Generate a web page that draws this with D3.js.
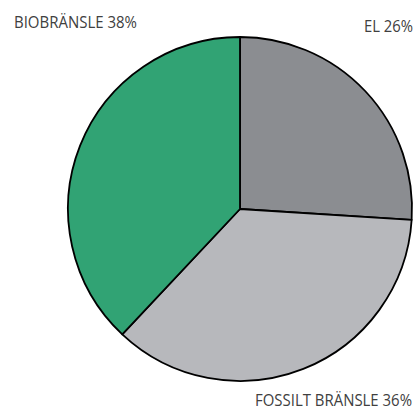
<!DOCTYPE html>
<html>
<head>
<meta charset="utf-8">
<script src="https://cdn.jsdelivr.net/npm/d3@7"></script>
<style>
  body { margin: 0; background: #fff; }
  svg { display: block; }
  .lbl { font-family: "Open Sans", sans-serif; font-size: 15.5px; font-weight: 400; fill: #404040; }
</style>
</head>
<body>
<svg width="418" height="409"></svg>
<script>
// data, clockwise from 12 o'clock
const categories = ["EL", "FOSSILT BRÄNSLE", "BIOBRÄNSLE"];
const shares = [26, 36, 38];
const colors = ["#8b8d91", "#b7b8bc", "#31a374"];

const svg = d3.select("svg");
const cx = 240, cy = 209, r = 172;

const pie = d3.pie().sort(null).value(d => d);
const arc = d3.arc().innerRadius(0).outerRadius(r);

const g = svg.append("g").attr("transform", "translate(" + cx + "," + cy + ")");

g.selectAll("path")
  .data(pie(shares))
  .enter()
  .append("path")
    .attr("d", arc)
    .attr("fill", (d, i) => colors[i])
    .attr("stroke", "#000")
    .attr("stroke-width", 1.8)
    .attr("stroke-linejoin", "round");

// labels
const labels = [
  {text: categories[0] + " " + shares[0] + "%", x: 413, y: 32, anchor: "end", w: 49},
  {text: categories[1] + " " + shares[1] + "%", x: 412, y: 406, anchor: "end", w: 157},
  {text: categories[2] + " " + shares[2] + "%", x: 14, y: 28, anchor: "start", w: 123}
];

svg.selectAll("text.lbl")
  .data(labels)
  .enter()
  .append("text")
    .attr("class", "lbl")
    .attr("x", d => d.x)
    .attr("y", d => d.y)
    .attr("text-anchor", d => d.anchor)
    .attr("textLength", d => d.w)
    .attr("lengthAdjust", "spacingAndGlyphs")
    .text(d => d.text);
</script>
</body>
</html>
